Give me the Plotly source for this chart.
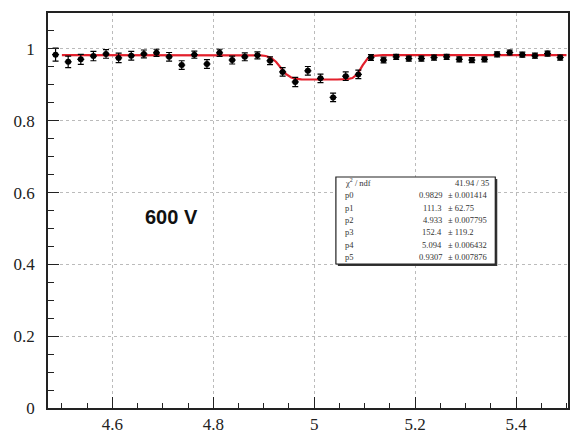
import numpy as np
import plotly.graph_objects as go

# ---- data ----
x_vals = [4.4875, 4.5125, 4.5375, 4.5625, 4.5875, 4.6125, 4.6375, 4.6625, 4.6875, 4.7125,
          4.7375, 4.7625, 4.7875, 4.8125, 4.8375, 4.8625, 4.8875, 4.9125, 4.9375, 4.9625,
          4.9875, 5.0125, 5.0375, 5.0625, 5.0875, 5.1125, 5.1375, 5.1625, 5.1875, 5.2125,
          5.2375, 5.2625, 5.2875, 5.3125, 5.3375, 5.3625, 5.3875, 5.4125, 5.4375, 5.4625,
          5.4875]
y_vals = [0.984, 0.964, 0.971, 0.980, 0.986, 0.975, 0.981, 0.986, 0.989, 0.978,
          0.955, 0.984, 0.958, 0.989, 0.969, 0.978, 0.982, 0.967, 0.936, 0.908,
          0.939, 0.918, 0.865, 0.924, 0.929, 0.976, 0.969, 0.978, 0.973, 0.973,
          0.976, 0.978, 0.971, 0.969, 0.971, 0.985, 0.990, 0.984, 0.981, 0.987,
          0.976]
y_errs = [0.018, 0.016, 0.014, 0.013, 0.012, 0.013, 0.012, 0.011, 0.010, 0.012,
          0.012, 0.010, 0.012, 0.010, 0.011, 0.011, 0.010, 0.011, 0.012, 0.013,
          0.012, 0.012, 0.012, 0.012, 0.012, 0.008, 0.008, 0.007, 0.007, 0.007,
          0.007, 0.007, 0.007, 0.007, 0.007, 0.007, 0.007, 0.007, 0.007, 0.007,
          0.007]
x_half_width = 0.007

# fit parameters (from stats box)
par_names = ["p0", "p1", "p2", "p3", "p4", "p5"]
par_vals = [0.9829, 111.3, 4.933, 152.4, 5.094, 0.9307]
par_errs = ["0.001414", "62.75", "0.007795", "119.2", "0.006432", "0.007876"]
par_text = ["0.9829", "111.3", "4.933", "152.4", "5.094", "0.9307"]
chi2_text = "41.94 / 35"
fit_range = [4.5, 5.5]
label_text = "600 V"

x_ticks = [4.6, 4.8, 5.0, 5.2, 5.4]
x_tick_labels = ["4.6", "4.8", "5", "5.2", "5.4"]
y_ticks = [0, 0.2, 0.4, 0.6, 0.8, 1.0]
y_tick_labels = ["0", "0.2", "0.4", "0.6", "0.8", "1"]

# ---- fit curve ----
p0, p1, p2, p3, p4, p5 = par_vals
xf = np.linspace(fit_range[0], fit_range[1], 100)
yf = p0 * (1 - (1 - p5) / (1 + np.exp(-p1 * (xf - p2))) / (1 + np.exp(p3 * (xf - p4))))

fig = go.Figure()
fig.add_trace(go.Scatter(
    x=xf, y=yf, mode="lines",
    line=dict(color="#e3202c", width=2.2), hoverinfo="skip"))
fig.add_trace(go.Scatter(
    x=x_vals, y=y_vals, mode="markers",
    marker=dict(color="black", size=6),
    error_y=dict(type="data", array=y_errs, color="black", thickness=1.2, width=3),
    error_x=dict(type="constant", value=x_half_width, color="black", thickness=1.2, width=0)))

W, H = 572, 436
L, R, T, B = 48, 2, 13, 28
pw, ph = W - L - R, H - T - B


def px(xp):
    return (xp - L) / pw


def py(yp):
    return (H - B - yp) / ph


SERIF = "Liberation Serif"

# stats box
bx0, bx1, by0, by1 = 337, 497, 177, 264
shapes = [
    dict(type="rect", xref="paper", yref="paper",
         x0=px(bx0 + 2), x1=px(bx1 + 2), y0=py(by1 + 2), y1=py(by0 + 2),
         fillcolor="#333", line=dict(width=0)),
    dict(type="rect", xref="paper", yref="paper",
         x0=px(bx0), x1=px(bx1), y0=py(by1), y1=py(by0),
         fillcolor="white", line=dict(color="#222", width=1.2)),
]

annotations = []
font_box = dict(family=SERIF, size=8.5, color="#333")
rows = [("χ<sup>2</sup> / ndf", None, None)] + list(zip(par_names, par_text, par_errs))
row_y0 = 183
row_dy = 12.3
for i, (name, val, err) in enumerate(rows):
    yy = py(row_y0 + i * row_dy)
    annotations.append(dict(x=px(344), y=yy, xref="paper", yref="paper", text=name,
                            showarrow=False, xanchor="left", yanchor="middle", font=font_box))
    if val is None:
        annotations.append(dict(x=px(493), y=yy, xref="paper", yref="paper", text=chi2_text,
                                showarrow=False, xanchor="right", yanchor="middle", font=font_box))
    else:
        annotations.append(dict(x=px(446), y=yy, xref="paper", yref="paper", text=val,
                                showarrow=False, xanchor="right", yanchor="middle", font=font_box))
        annotations.append(dict(x=px(448), y=yy, xref="paper", yref="paper", text="± " + err,
                                showarrow=False, xanchor="left", yanchor="middle", font=font_box))

annotations.append(dict(x=px(172), y=py(217), xref="paper", yref="paper", text="<b>" + label_text + "</b>",
                        showarrow=False, xanchor="center", yanchor="middle",
                        font=dict(family="Liberation Sans", size=20, color="#111")))

tick_font = dict(family="serif", size=17, color="#222")
fig.update_layout(
    width=W, height=H,
    margin=dict(l=L, r=R, t=T, b=B),
    paper_bgcolor="white", plot_bgcolor="white",
    showlegend=False,
    shapes=shapes, annotations=annotations,
    xaxis=dict(range=[4.4725, 5.503], tickmode="array", tickvals=x_ticks, ticktext=x_tick_labels,
               ticks="inside", ticklen=11, tickwidth=1.3, tickcolor="#222",
               minor=dict(dtick=0.05, tick0=4.6, ticks="inside", ticklen=5, tickwidth=1.2, tickcolor="#222", showgrid=False),
               showline=True, linecolor="#222", linewidth=1.5, mirror=True,
               showgrid=True, gridcolor="#bbbbbb", griddash="dot", gridwidth=1,
               zeroline=False, tickfont=tick_font),
    yaxis=dict(range=[0, 1.1], tickmode="array", tickvals=y_ticks, ticktext=y_tick_labels,
               ticks="inside", ticklen=11, tickwidth=1.3, tickcolor="#222",
               minor=dict(dtick=0.05, tick0=0, ticks="inside", ticklen=6, tickwidth=1.2, tickcolor="#222", showgrid=False),
               showline=True, linecolor="#222", linewidth=1.5, mirror=True,
               showgrid=True, gridcolor="#bbbbbb", griddash="dot", gridwidth=1,
               zeroline=False, tickfont=tick_font, ticklabelstandoff=8),
)

fig.write_html("out.html")
